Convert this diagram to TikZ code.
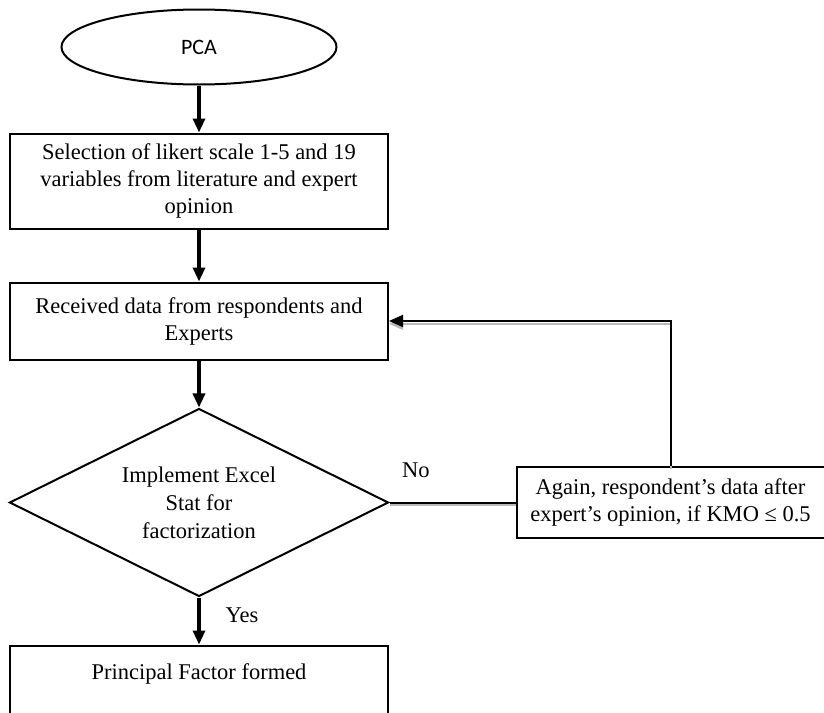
\documentclass[tikz,border=0pt]{standalone}
\usepackage{fontspec}
\setmainfont{Liberation Serif}
\newfontfamily\pcafont{Carlito}
\usetikzlibrary{positioning,arrows.meta,shapes.geometric}

\begin{document}
\begin{tikzpicture}[x=1pt, y=1pt,
  box/.style={draw, line width=2pt, align=center, inner sep=0pt,
              font=\fontsize{22.5}{27}\selectfont, minimum width=378pt},
  decide/.style={draw, diamond, aspect=2, line width=2pt, align=center, inner sep=0pt,
              font=\fontsize{22.5}{28}\selectfont,
              minimum width=379pt, minimum height=188pt},
  start/.style={draw, ellipse, line width=2pt, inner sep=0pt,
              font=\pcafont\fontsize{22}{26}\selectfont,
              minimum width=275pt, minimum height=75pt},
  arr/.style={-{Triangle[length=14pt, width=12pt]}, line width=3.2pt},
  shadowline/.style={line width=2pt,
              preaction={draw=gray!55, line width=2pt, transform canvas={yshift=-2.8pt}}},
  lbl/.style={font=\fontsize{22.5}{27}\selectfont, inner sep=0pt}
]
  \useasboundingbox (0,0) rectangle (824,-712);
  \clip (0,0) rectangle (824,-712);

  \node[start] (pca) at (199,-47) {PCA};
  \node[box, minimum height=95pt, below=47pt of pca] (select)
    {Selection of likert scale 1-5 and 19\\variables from literature and expert\\opinion};
  \node[box, minimum height=77pt, below=52pt of select] (received)
    {Received data from respondents and\\Experts};
  \node[decide, below=47pt of received] (excel)
    {Implement Excel\\Stat for\\factorization};
  \node[box, minimum width=308pt, minimum height=71pt, right=126pt of excel] (again)
    {Again, respondent’s data after\\expert’s opinion, if KMO ≤ 0.5};
  \node[box, minimum height=80pt, below=47pt of excel] (factor)
    {Principal Factor formed\\\mbox{}};

  \draw[arr] (pca) -- (select);
  \draw[arr] (select) -- (received);
  \draw[arr] (received) -- (excel);
  \draw[arr] (excel) -- node[lbl, pos=0.38, right=25pt] {Yes} (factor);
  \draw[shadowline] (excel.east) -- node[lbl, pos=0.21, above=24pt] {No} (again.west);
  \draw[arr, shadowline] (again.north) |- (received.east);
\end{tikzpicture}
\end{document}
